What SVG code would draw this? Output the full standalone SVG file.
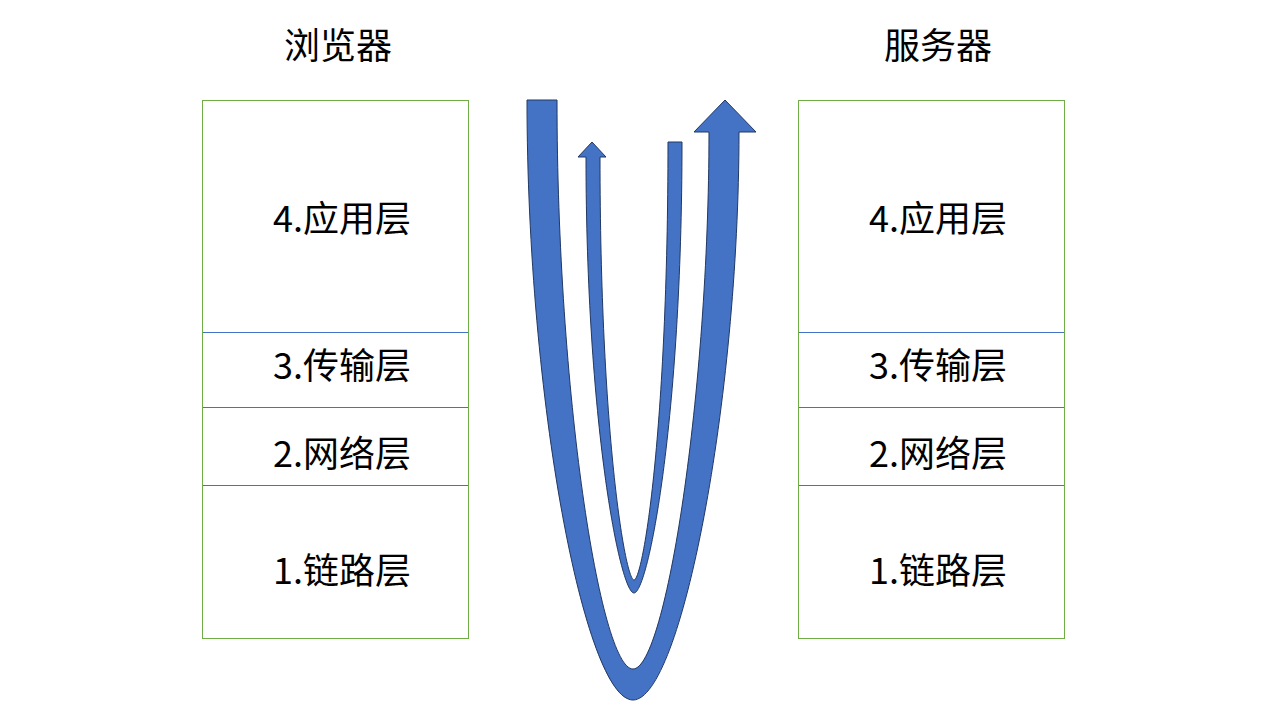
<svg xmlns="http://www.w3.org/2000/svg" width="1280" height="720" viewBox="0 0 1280 720">
<style>
.title{font-family:"Noto Sans CJK SC","Noto Sans",sans-serif;font-size:36px;fill:#000;text-anchor:middle}
.lbl{font-family:"Noto Sans CJK SC","Noto Sans",sans-serif;font-size:36px;fill:#000;text-anchor:middle}
.box{fill:#fff;stroke:#70AD47;stroke-width:1}
.sep{stroke:#4472C4;stroke-width:1}
.arr{fill:#4472C4;stroke:#203864;stroke-width:1;stroke-linejoin:miter}
</style>
<rect width="1280" height="720" fill="#fff"/>
<g id="browser">
<text class="title" x="338" y="59">浏览器</text>
<rect class="box" x="202.5" y="100.5" width="266" height="538"/>
<line class="sep" x1="203" y1="332.5" x2="468" y2="332.5"/>
<line class="sep" x1="203" y1="407.5" x2="468" y2="407.5"/>
<line class="sep" x1="203" y1="485.5" x2="468" y2="485.5"/>
<text class="lbl" x="342" y="232">4.应用层</text>
<text class="lbl" x="342" y="379">3.传输层</text>
<text class="lbl" x="342" y="467">2.网络层</text>
<text class="lbl" x="342" y="584">1.链路层</text>
</g>
<g id="server">
<text class="title" x="938" y="59">服务器</text>
<rect class="box" x="798.5" y="100.5" width="266" height="538"/>
<line class="sep" x1="799" y1="332.5" x2="1064" y2="332.5"/>
<line class="sep" x1="799" y1="407.5" x2="1064" y2="407.5"/>
<line class="sep" x1="799" y1="485.5" x2="1064" y2="485.5"/>
<text class="lbl" x="938" y="232">4.应用层</text>
<text class="lbl" x="938" y="379">3.传输层</text>
<text class="lbl" x="938" y="467">2.网络层</text>
<text class="lbl" x="938" y="584">1.链路层</text>
</g>
<g id="connectors">
<path id="request" class="arr" d="M527,100 C527,400 585,700 633,700 C681,700 739,400 739,132 L756,132 L725,100 L694,132 L709,132 C709,390 666,669 633,669 C600,669 557,390 557,100 Z"/>
<path id="response" class="arr" d="M668,142 L682,142 C682,420 648,593 634,593 C620,593 586,420 586,157 L578,157 L592,142 L606,157 L600,157 C600,430 625,580 634,580 C643,580 668,430 668,142 Z"/>
</g>
</svg>
